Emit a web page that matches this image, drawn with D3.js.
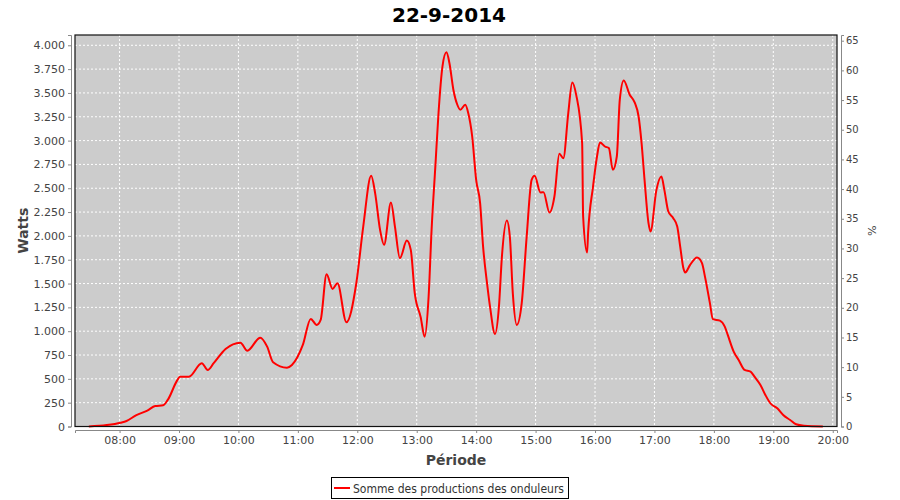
<!DOCTYPE html>
<html><head><meta charset="utf-8">
<script src="https://cdn.jsdelivr.net/npm/d3@7"></script>
<style>body{margin:0;background:#fff}svg{display:block}text{font-family:"DejaVu Sans",sans-serif}</style>
</head><body><svg id="c" width="900" height="500"></svg>
<script>
const title = "22-9-2014";
const times = ["07:29","07:47","08:01","08:07","08:17","08:28","08:36","08:44","08:49","08:58","09:01","09:10","09:23","09:29","09:35","09:47","10:02","10:09","10:22","10:29","10:35","10:49","10:54","11:05","11:13","11:19","11:23","11:29","11:35","11:40","11:49","11:59","12:06","12:14","12:18","12:23","12:27","12:34","12:38","12:43","12:50","12:54","12:58","13:04","13:08","13:12","13:15","13:19","13:22","13:26","13:30","13:33","13:37","13:41","13:44","13:49","13:52","13:56","14:00","14:04","14:07","14:11","14:14","14:19","14:23","14:26","14:31","14:34","14:37","14:41","14:46","14:51","14:56","14:59","15:05","15:08","15:14","15:19","15:24","15:28","15:33","15:37","15:41","15:47","15:48","15:52","15:53","15:58","16:02","16:05","16:10","16:14","16:18","16:22","16:25","16:29","16:35","16:40","16:44","16:47","16:50","16:54","16:56","17:02","17:07","17:10","17:14","17:19","17:23","17:26","17:29","17:31","17:36","17:43","17:48","17:51","17:56","17:59","18:06","18:11","18:14","18:20","18:25","18:31","18:37","18:41","18:47","18:52","18:57","19:04","19:10","19:17","19:23","19:31","19:50"];
const watts = [0,15,40,58,120,166,215,222,285,481,523,523,664,593,664,814,880,796,932,838,674,617,646,856,1129,1066,1118,1598,1444,1503,1094,1503,2098,2631,2449,2063,1906,2350,2098,1766,1951,1853,1399,1147,943,1363,2063,2764,3289,3779,3926,3814,3534,3376,3323,3376,3289,3043,2588,2343,1888,1503,1258,971,1258,1783,2161,1993,1399,1066,1294,1993,2588,2631,2455,2459,2245,2413,2861,2816,3289,3610,3480,2974,2203,1825,2029,2518,2833,2980,2938,2921,2693,2833,3428,3631,3481,3400,3253,2974,2588,2134,2046,2483,2623,2483,2256,2186,2098,1888,1672,1616,1696,1773,1714,1573,1294,1126,1111,1048,961,786,698,593,576,523,436,331,244,191,121,68,23,8,0];
const xTickLabels = ["08:00","09:00","10:00","11:00","12:00","13:00","14:00","15:00","16:00","17:00","18:00","19:00","20:00"];
const leftTicks = [0,250,500,750,1000,1250,1500,1750,2000,2250,2500,2750,3000,3250,3500,3750,4000];
const rightTicks = [0,5,10,15,20,25,30,35,40,45,50,55,60,65];
const seriesName = "Somme des productions des onduleurs";
const xTitle = "Période", yTitle = "Watts", y2Title = "%";

const parse = d3.timeParse("%H:%M");
const data = times.map((t,i)=>({t:parse(t), v:watts[i]}));
const P = {l:75, r:837, t:35, b:426.5};
const svg = d3.select("#c");
const x = d3.scaleTime().domain([parse("07:15"), new Date(+parse("20:00")+4.3*60000)]).range([P.l,P.r]);
const y = d3.scaleLinear().domain([0,4108]).range([P.b,P.t]);
const y2 = d3.scaleLinear().domain([0,65.96]).range([P.b,P.t]);
const fmt = d3.formatLocale({decimal:",",thousands:".",grouping:[3],currency:["",""]}).format(",d");

svg.append("text").attr("x",449).attr("y",22).attr("text-anchor","middle").attr("font-size",20).attr("font-weight","bold").attr("fill","#000").text(title);

svg.append("rect").attr("x",P.l).attr("y",P.t).attr("width",P.r-P.l).attr("height",P.b-P.t).attr("fill","#cccccc");
const g = svg.append("g");
const xt = xTickLabels.map(parse);
g.selectAll(".vg").data(xt).join("line").attr("x1",d=>x(d)).attr("x2",d=>x(d)).attr("y1",P.t).attr("y2",P.b).attr("stroke","#fff").attr("stroke-dasharray","2,2");
g.selectAll(".hg").data(leftTicks).join("line").attr("x1",P.l).attr("x2",P.r).attr("y1",d=>y(d)).attr("y2",d=>y(d)).attr("stroke","#fff").attr("stroke-dasharray","2,2");

const line = d3.line().x(d=>x(d.t)).y(d=>y(d.v)).curve(d3.curveMonotoneX);
svg.append("path").datum(data).attr("d",line).attr("fill","none").attr("stroke","#ff0000").attr("stroke-width",2);
svg.append("rect").attr("x",P.l).attr("y",P.t).attr("width",P.r-P.l).attr("height",P.b-P.t).attr("fill","none").attr("stroke","#111").attr("stroke-width",1.2);

function style(a){a.selectAll("path.domain").attr("stroke","#888");a.selectAll(".tick line").attr("stroke","#888");a.selectAll(".tick text").attr("fill","#444").attr("font-size",11).attr("font-family","DejaVu Sans, sans-serif");}
const xa = svg.append("g").attr("transform",`translate(0,430)`).call(d3.axisBottom(x).tickValues(xt).tickFormat(d3.timeFormat("%H:%M")).tickSizeOuter(0).tickSize(3).tickPadding(3));
style(xa);
const ya = svg.append("g").attr("transform",`translate(71,0)`).call(d3.axisLeft(y).tickValues(leftTicks).tickFormat(fmt).tickSizeOuter(0).tickSize(3).tickPadding(3));
style(ya);
const y2a = svg.append("g").attr("transform",`translate(841,0)`).call(d3.axisRight(y2).tickValues(rightTicks).tickFormat(d3.format("d")).tickSizeOuter(0).tickSize(3).tickPadding(2));
style(y2a); y2a.selectAll(".tick text").attr("font-size",10);

svg.append("text").attr("x",(P.l+P.r)/2).attr("y",465).attr("text-anchor","middle").attr("font-size",14).attr("font-weight","bold").attr("fill","#444").text(xTitle);
svg.append("text").attr("transform",`translate(28,${(P.t+P.b)/2}) rotate(-90)`).attr("text-anchor","middle").attr("font-size",14).attr("font-weight","bold").attr("fill","#444").text(yTitle);
svg.append("text").attr("transform",`translate(868,${(P.t+P.b)/2}) rotate(90)`).attr("text-anchor","middle").attr("font-size",11).attr("fill","#444").text(y2Title);

const lg = svg.append("g");
lg.append("rect").attr("x",331.5).attr("y",477.5).attr("width",237).attr("height",21).attr("fill","#fff").attr("stroke","#000");
lg.append("line").attr("x1",334).attr("x2",350).attr("y1",488).attr("y2",488).attr("stroke","#ff0000").attr("stroke-width",2);
lg.append("text").attr("x",353).attr("y",492.5).attr("font-size",11.5).attr("textLength",211).attr("lengthAdjust","spacingAndGlyphs").attr("fill","#333").text(seriesName);
</script></body></html>
